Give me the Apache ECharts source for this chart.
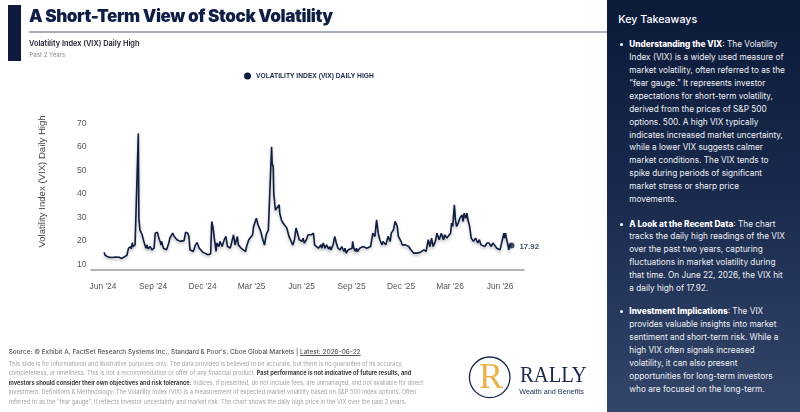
<!DOCTYPE html>
<html><head><meta charset="utf-8">
<script src="https://cdn.jsdelivr.net/npm/echarts@6/dist/echarts.min.js"></script>
<style>
html,body{margin:0;padding:0;width:800px;height:412px;overflow:hidden;background:#fff;font-family:Inter,'Liberation Sans',sans-serif;}
#chart{position:absolute;left:0;top:0;width:607px;height:412px;}
.abs{position:absolute;white-space:nowrap;width:max-content;}
#bar{position:absolute;left:8px;top:5px;width:13px;height:56px;background:#0d1b3e;}
#rule{position:absolute;left:29px;top:31.3px;width:578px;height:1.5px;background:#a9adb5;}
#title{left:29px;top:6.35px;line-height:20px;font-size:17px;font-weight:900;color:#0f1e45;letter-spacing:-0.4px;}
#sub{left:29px;top:37.7px;line-height:12px;font-size:7.5px;font-weight:600;color:#1c1f2e;}
#past{left:29.5px;top:50.3px;line-height:10px;font-size:6.5px;color:#8a8a8a;}
#panel{position:absolute;left:607px;top:0;width:193px;height:412px;background:linear-gradient(to bottom,#0c1a39 0%,#1a2b4e 50%,#33466a 100%);}
#kt{left:618.3px;top:11.8px;line-height:15px;font-size:11px;color:#fff;font-weight:500;}
.blk{position:absolute;left:629.3px;color:#eef0f4;line-height:12.9px;font-size:8.5px;}
.blk div{white-space:nowrap;width:max-content;}
.blk b{font-weight:800;color:#fff;}
.dot{position:absolute;left:620.2px;width:3px;height:3px;border-radius:50%;background:#fff;}
#src{left:8.7px;top:347px;line-height:10px;font-size:6.3px;color:#555;font-weight:500;}
#src u{text-decoration:underline;}
.disc{position:absolute;left:8.7px;top:359px;line-height:9.4px;font-size:5.3px;color:#a3a3a3;}
.disc div{white-space:nowrap;width:max-content;}
.disc b{color:#3d3d3d;font-weight:700;}
#logo{position:absolute;left:460px;top:340px;}
</style></head>
<body>
<div id="chart"></div>
<div id="bar"></div>
<div id="rule"></div>
<div class="abs" id="title">A Short-Term View of Stock Volatility</div>
<div class="abs" id="sub">Volatility Index (VIX) Daily High</div>
<div class="abs" id="past">Past 2 Years</div>

<div class="abs" id="src">Source: © Exhibit A, FactSet Research Systems Inc., Standard &amp; Poor's, Cboe Global Markets | <u>Latest: 2026-06-22</u></div>
<div class="disc" id="disc">
<div>This slide is for informational and illustrative purposes only. The data provided is believed to be accurate, but there is no guarantee of its accuracy,</div>
<div>completeness, or timeliness. This is not a recommendation or offer of any financial product. <b>Past performance is not indicative of future results, and</b></div>
<div><b>investors should consider their own objectives and risk tolerance.</b> Indices, if presented, do not include fees, are unmanaged, and not available for direct</div>
<div>investment. Definitions &amp; Methodology: The Volatility Index (VIX) is a measurement of expected market volatility based on S&amp;P 500 index options. Often</div>
<div>referred to as the "fear gauge", it reflects investor uncertainty and market risk. The chart shows the daily high price in the VIX over the past 2 years.</div>
</div>

<svg id="logo" width="140" height="72">
<circle cx="29.7" cy="37.3" r="20.3" fill="none" stroke="#14234a" stroke-width="1.3"/>
<text x="31" y="47.5" font-family="Liberation Serif" font-size="36" fill="#e8b34c" text-anchor="middle">R</text>
<text x="60" y="41.7" font-family="Liberation Serif" font-size="23" fill="#1b2a4e" textLength="66.7" lengthAdjust="spacingAndGlyphs">RALLY</text>
<text x="59.3" y="54" font-family="Liberation Sans" font-size="6.8" fill="#1b2a4e" textLength="64.7" lengthAdjust="spacingAndGlyphs">Wealth and Benefits</text>
</svg>

<div id="panel"></div>
<div class="abs" id="kt">Key Takeaways</div>
<span class="dot" style="top:43.2px"></span>
<div class="blk" style="top:38.2px">
<div><b>Understanding the VIX</b>: The Volatility</div>
<div>Index (VIX) is a widely used measure of</div>
<div id="refline">market volatility, often referred to as the</div>
<div>“fear gauge.” It represents investor</div>
<div>expectations for short-term volatility,</div>
<div>derived from the prices of S&amp;P 500</div>
<div>options. 500. A high VIX typically</div>
<div>indicates increased market uncertainty,</div>
<div>while a lower VIX suggests calmer</div>
<div>market conditions. The VIX tends to</div>
<div>spike during periods of significant</div>
<div>market stress or sharp price</div>
<div>movements.</div>
</div>
<span class="dot" style="top:222.5px"></span>
<div class="blk" style="top:217.5px">
<div><b>A Look at the Recent Data</b>: The chart</div>
<div>tracks the daily high readings of the VIX</div>
<div>over the past two years, capturing</div>
<div>fluctuations in market volatility during</div>
<div>that time. On June 22, 2026, the VIX hit</div>
<div>a daily high of 17.92.</div>
</div>
<span class="dot" style="top:310.2px"></span>
<div class="blk" style="top:305.2px">
<div><b>Investment Implications</b>: The VIX</div>
<div>provides valuable insights into market</div>
<div>sentiment and short-term risk. While a</div>
<div>high VIX often signals increased</div>
<div>volatility, it can also present</div>
<div>opportunities for long-term investors</div>
<div>who are focused on the long-term.</div>
</div>

<script>
// ---------------- DATA ----------------
const seriesName = 'VOLATILITY INDEX (VIX) DAILY HIGH';
const dates = [
'2024-06-03','2024-06-05','2024-06-11','2024-06-14','2024-06-17','2024-06-20','2024-06-24','2024-06-27','2024-07-01','2024-07-03',
'2024-07-05','2024-07-09','2024-07-12','2024-07-15','2024-07-18','2024-07-22','2024-07-23','2024-07-25','2024-07-26','2024-07-30',
'2024-08-01','2024-08-02','2024-08-05','2024-08-06','2024-08-08','2024-08-12','2024-08-15','2024-08-19','2024-08-21','2024-08-23',
'2024-08-27','2024-08-30','2024-09-03','2024-09-05','2024-09-09','2024-09-11','2024-09-13','2024-09-16','2024-09-17','2024-09-20',
'2024-09-23','2024-09-26','2024-09-30','2024-10-02','2024-10-07','2024-10-10','2024-10-15','2024-10-21','2024-10-28','2024-10-31',
'2024-11-04','2024-11-06','2024-11-08','2024-11-11','2024-11-14','2024-11-18','2024-11-21','2024-11-25','2024-11-27','2024-12-02',
'2024-12-05','2024-12-11','2024-12-13','2024-12-16','2024-12-18','2024-12-20','2024-12-23','2024-12-26','2024-12-27','2024-12-31',
'2025-01-02','2025-01-06','2025-01-08','2025-01-10','2025-01-13','2025-01-16','2025-01-21','2025-01-24','2025-01-27','2025-01-30',
'2025-02-03','2025-02-05','2025-02-10','2025-02-12','2025-02-14','2025-02-18','2025-02-20','2025-02-24','2025-02-27','2025-03-03',
'2025-03-05','2025-03-07','2025-03-10','2025-03-13','2025-03-17','2025-03-19','2025-03-21','2025-03-25','2025-03-28','2025-04-01',
'2025-04-03','2025-04-07','2025-04-08','2025-04-10','2025-04-11','2025-04-14','2025-04-16','2025-04-21','2025-04-22','2025-04-25',
'2025-04-28','2025-05-01','2025-05-05','2025-05-07','2025-05-09','2025-05-13','2025-05-16','2025-05-19','2025-05-22','2025-05-23',
'2025-05-28','2025-06-02','2025-06-04','2025-06-06','2025-06-10','2025-06-13','2025-06-16','2025-06-19','2025-06-23','2025-06-25',
'2025-06-27','2025-07-02','2025-07-07','2025-07-08','2025-07-11','2025-07-14','2025-07-17','2025-07-21','2025-07-23','2025-07-25',
'2025-07-29','2025-08-01','2025-08-04','2025-08-07','2025-08-11','2025-08-14','2025-08-18','2025-08-20','2025-08-22','2025-08-26',
'2025-08-29','2025-09-02','2025-09-03','2025-09-05','2025-09-08','2025-09-10','2025-09-12','2025-09-16','2025-09-19','2025-09-22',
'2025-09-25','2025-09-29','2025-10-02','2025-10-06','2025-10-08','2025-10-10','2025-10-14','2025-10-17','2025-10-20','2025-10-23',
'2025-10-27','2025-10-29','2025-11-03','2025-11-05','2025-11-07','2025-11-11','2025-11-13','2025-11-17','2025-11-20','2025-11-24',
'2025-11-26','2025-12-01','2025-12-03','2025-12-05','2025-12-09','2025-12-12','2025-12-15','2025-12-17','2025-12-19','2025-12-24',
'2025-12-26','2025-12-30','2026-01-02','2026-01-05','2026-01-08','2026-01-12','2026-01-14','2026-01-16','2026-01-20','2026-01-23',
'2026-01-26','2026-01-29','2026-02-02','2026-02-05','2026-02-09','2026-02-11','2026-02-13','2026-02-17','2026-02-19','2026-02-23',
'2026-02-26','2026-03-02','2026-03-04','2026-03-06','2026-03-09','2026-03-11','2026-03-13','2026-03-16','2026-03-19','2026-03-23',
'2026-03-25','2026-03-27','2026-03-30','2026-04-01','2026-04-03','2026-04-06','2026-04-09','2026-04-13','2026-04-15','2026-04-17',
'2026-04-21','2026-04-24','2026-04-27','2026-04-30','2026-05-04','2026-05-06','2026-05-08','2026-05-12','2026-05-15','2026-05-19',
'2026-05-22','2026-05-26','2026-05-28','2026-06-01','2026-06-04','2026-06-08','2026-06-09','2026-06-11','2026-06-12','2026-06-16',
'2026-06-17','2026-06-19','2026-06-22'
];
const values = [
15.0,13.8,13.0,13.6,12.8,13.4,13.0,13.6,12.9,13.0,
12.4,12.9,13.1,13.8,16.8,17.5,16.5,19.2,17.5,18.2,
17.5,18.0,65.7,29.6,24.6,22.5,19.7,16.8,18.2,16.5,
17.5,16.1,16.8,23.2,23.6,21.8,22.5,18.2,19.7,16.8,
17.5,16.1,19.0,21.1,23.2,21.8,20.4,19.7,20.0,23.6,
23.2,21.8,16.1,15.8,15.4,18.2,19.2,16.8,16.1,15.0,
14.4,14.0,14.0,14.4,28.2,26.1,20.4,15.4,19.0,17.5,
19.7,17.5,19.0,20.4,21.8,17.5,16.8,16.1,22.5,18.2,
21.8,18.2,16.8,16.1,16.1,15.4,17.5,20.4,20.7,22.5,
26.1,27.5,29.6,26.8,24.6,23.2,21.1,18.2,22.5,24.6,
25.0,60.0,53.0,51.5,40.1,33.0,32.5,35.3,31.7,28.9,
27.5,27.8,25.4,26.1,21.8,19.7,18.2,20.4,25.4,25.2,
20.4,19.7,21.1,19.0,20.4,22.5,21.8,22.5,23.2,18.2,
17.5,16.8,18.2,16.8,19.0,16.8,18.2,16.4,17.5,16.1,
18.2,21.8,19.0,16.8,16.1,17.5,15.4,16.8,14.7,16.1,
15.4,16.8,19.7,16.8,15.4,16.8,15.4,16.8,16.1,17.5,
16.8,16.8,17.5,17.5,17.5,23.2,21.8,28.9,23.2,20.4,
18.2,19.7,18.2,19.0,21.8,19.7,23.2,24.6,28.2,26.1,
21.8,19.7,18.2,17.5,18.2,17.5,17.5,16.8,16.1,14.7,
14.3,14.7,15.0,15.0,15.4,16.1,16.8,15.4,20.4,17.5,
21.1,17.5,19.7,23.2,20.4,21.1,23.2,20.4,22.5,21.1,
20.4,23.2,27.5,26.1,35.3,28.9,26.1,27.5,29.6,31.0,
28.2,31.7,29.6,31.7,28.9,26.1,21.1,19.7,19.7,21.1,
19.0,20.4,18.2,19.0,17.5,18.2,19.0,19.0,17.5,19.0,
18.2,16.8,16.1,16.1,16.8,23.2,21.1,23.2,21.8,17.5,
16.1,18.2,17.92
];
const xTickDates = ['2024-06-01','2024-09-01','2024-12-01','2025-03-01','2025-06-01','2025-09-01','2025-12-01','2026-03-01','2026-06-01'];
const yTicks = [10,20,30,40,50,60,70];
const xRange = ['2024-05-10','2026-07-15'];
const yRange = [7.5,70];

// ---------------- LAYOUT HELPERS ----------------
function fit(els, targets){
  let m=0,t=0;
  els.forEach((e,i)=>{m+=e.getBoundingClientRect().width;t+=targets[i];});
  const fs=parseFloat(getComputedStyle(els[0]).fontSize);
  const nf=fs*t/m;
  els.forEach(e=>e.style.fontSize=nf+'px');
  return nf;
}
fit([document.getElementById('title')],[304]);
fit([document.getElementById('sub')],[110.7]);
fit([document.getElementById('past')],[35.7]);
fit([document.getElementById('src')],[352]);
fit([document.getElementById('kt')],[79]);
const discLines=[...document.querySelectorAll('#disc div')];
const dfs=fit([discLines[0],discLines[1],discLines[2]],[393.3,408,412]);
document.getElementById('disc').style.fontSize=dfs+'px';
discLines.forEach(e=>e.style.fontSize=dfs+'px');
const ref=document.getElementById('refline');
const pw=ref.getBoundingClientRect().width;
const pfs=8.5*155.7/pw;
document.querySelectorAll('.blk').forEach(b=>b.style.fontSize=pfs+'px');

// ---------------- CHART ----------------
function ts(s){const p=s.split('-');return Date.UTC(+p[0],+p[1]-1,+p[2]);}
const MONTHS=['Jan','Feb','Mar','Apr','May','Jun','Jul','Aug','Sep','Oct','Nov','Dec'];
const lineData=dates.map((d,i)=>[ts(d),values[i]]);
const last=lineData[lineData.length-1];
const NAVY='#0f1d40';
const chart=echarts.init(document.getElementById('chart'),null,{renderer:'canvas'});
chart.setOption({
  animation:false,
  textStyle:{fontFamily:'Liberation Sans'},
  grid:{left:91,top:123.3,width:433,height:146.7,containLabel:false},
  legend:{
    data:[seriesName],left:239,top:67.6,itemWidth:7,itemHeight:7,icon:'circle',itemGap:0,
    textStyle:{fontSize:6.7,fontWeight:600,color:'#1a2649',fontFamily:'Liberation Sans'}
  },
  xAxis:{
    type:'value',min:ts(xRange[0]),max:ts(xRange[1]),
    axisLine:{lineStyle:{color:'#9c9c9c',width:1.5}},
    axisTick:{show:false},splitLine:{show:false},
    axisLabel:{
      customValues:xTickDates.map(ts),hideOverlap:false,
      formatter:function(v){const d=new Date(v);return MONTHS[d.getUTCMonth()]+" '"+String(d.getUTCFullYear()).slice(2);},
      color:'#555',fontSize:8.4,margin:13
    }
  },
  yAxis:{
    type:'value',min:yRange[0],max:yRange[1],
    axisLine:{show:false},axisTick:{show:false},splitLine:{show:false},
    axisLabel:{customValues:yTicks,color:'#555',fontSize:8.6,margin:4.5}
  },
  graphic:[{
    type:'text',x:42,y:181.5,rotation:Math.PI/2,
    style:{text:'Volatility Index (VIX) Daily High',fill:'#444',fontSize:9.6,fontFamily:'Liberation Sans',
      align:'center',verticalAlign:'middle',textAlign:'center',textVerticalAlign:'middle'}
  }],
  series:[{
    name:seriesName,type:'line',data:lineData,showSymbol:false,symbol:'circle',
    itemStyle:{color:NAVY},
    lineStyle:{color:NAVY,width:1.6,shadowColor:'rgba(0,0,0,0.28)',shadowBlur:3,shadowOffsetY:2},
    z:3
  },{
    name:'last',type:'scatter',data:[last],symbolSize:6,itemStyle:{color:NAVY},z:4,
    label:{show:true,position:'right',distance:5,formatter:function(p){return p.value[1].toFixed(2);},
      color:NAVY,fontWeight:'bold',fontSize:7.8,fontFamily:'Liberation Sans',offset:[0,1.5]}
  }]
});
</script>
</body></html>
